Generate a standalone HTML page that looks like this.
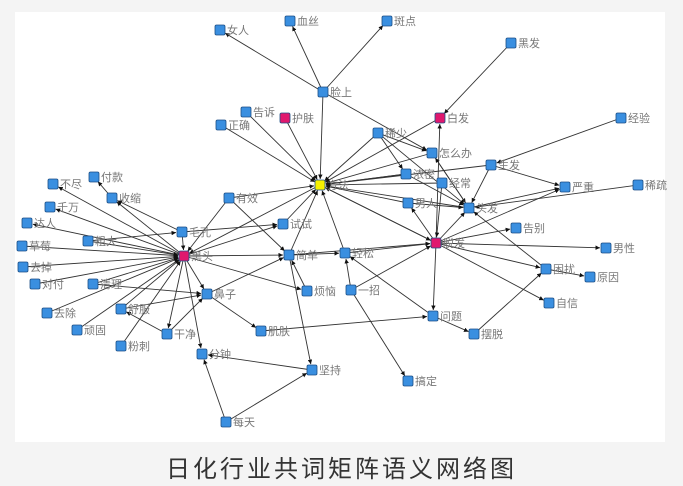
<!DOCTYPE html>
<html><head><meta charset="utf-8"><style>
body{margin:0;width:683px;height:486px;background:#f4f4f4;overflow:hidden;font-family:"Liberation Sans","Noto Sans CJK SC",sans-serif}
svg{position:absolute;left:0;top:0}
.cap{position:absolute;left:0;width:683px;top:449px;text-align:center;font-size:24px;color:#333;letter-spacing:3px;font-family:"Noto Sans CJK SC","WenQuanYi Zen Hei",sans-serif}
</style></head><body>
<svg width="683" height="486" xmlns="http://www.w3.org/2000/svg">
<defs><marker id="a" viewBox="0 0 6 6" refX="6" refY="3" markerWidth="5" markerHeight="5" orient="auto"><path d="M0,0L6,3L0,6z" fill="#111"/></marker></defs>
<rect x="15" y="12" width="650" height="430" fill="#fff"/>
<g id="e" stroke="#333" stroke-width="0.9" fill="none" marker-end="url(#a)"></g>
<g id="n"></g>
</svg>
<div class="cap">日化行业共词矩阵语义网络图</div>
<script>
var N={女人:[220,30],血丝:[290,21],斑点:[387,21],黑发:[511,43],脸上:[323,92],告诉:[246,112],正确:[221,125],护肤:[285,118,1],白发:[440,118,1],经验:[621,118],稀少:[378,133],怎么办:[432,153],生发:[491,165],浓密:[406,174],经常:[442,183],严重:[565,187],稀疏:[638,185],方法:[320,185,2],男人:[408,203],头发:[469,208],付款:[94,177],不尽:[53,184],收缩:[112,198],千万:[50,207],有效:[229,198],达人:[27,223],粗大:[88,241],毛孔:[182,232],试试:[283,224],草莓:[22,246],黑头:[184,256,1],简单:[289,255],去掉:[23,267],对付:[35,284],清理:[93,284],告别:[516,228],脱发:[436,243,1],男性:[606,248],轻松:[345,253],困扰:[546,269],原因:[590,277],烦恼:[307,291],一招:[351,290],鼻子:[207,294],舒服:[121,309],去除:[47,313],自信:[549,303],顽固:[77,330],干净:[167,334],肌肤:[261,331],问题:[433,316],摆脱:[474,334],粉刺:[121,346],分钟:[202,354],坚持:[312,370],搞定:[408,381],每天:[226,422]};
var E="脸上女人 脸上血丝 脸上斑点 脸上方法 脸上怎么办 正确方法 告诉方法 护肤方法 有效方法 试试方法 简单方法 轻松方法 稀少方法 白发方法 怎么办方法 浓密方法 经常方法 男人方法 头发方法 脱发方法 生发方法 黑头不尽 收缩付款 黑头收缩 黑头千万 黑头达人 粗大黑头 毛孔黑头 草莓黑头 去掉黑头 对付黑头 清理黑头 去除黑头 顽固黑头 舒服黑头 粉刺黑头 黑头干净 黑头分钟 黑头鼻子 黑头简单 黑头烦恼 有效黑头 黑头试试 方法黑头 黑发白发 经验生发 生发严重 稀疏头发 头发严重 生发头发 浓密头发 稀少浓密 稀少头发 怎么办头发 头发怎么办 浓密方法 脱发头发 脱发男人 脱发告别 脱发男性 脱发困扰 脱发自信 脱发问题 轻松脱发 一招脱发 简单脱发 方法脱发 脱发白发 困扰头发 困扰原因 摆脱困扰 问题摆脱 肌肤问题 问题轻松 一招轻松 一招搞定 简单坚持 坚持分钟 每天坚持 每天分钟 鼻子简单 鼻子肌肤 清理鼻子 舒服鼻子 干净鼻子 干净舒服 有效简单 毛孔试试 毛孔收缩 烦恼简单 粗大毛孔 简单轻松 经常脱发 男人头发 脱发严重 稀少怎么办".split(" ");
var keys=Object.keys(N).sort(function(a,b){return b.length-a.length});
var eg=document.getElementById('e'),ng=document.getElementById('n'),ns="http://www.w3.org/2000/svg";
E.forEach(function(s){var a,b;for(var i=0;i<keys.length;i++){if(s.indexOf(keys[i])==0&&N[s.slice(keys[i].length)]){a=keys[i];b=s.slice(a.length);break;}}if(!a)return;
var p=N[a],q=N[b],dx=q[0]-p[0],dy=q[1]-p[1],d=Math.hypot(dx,dy),r=6;
var l=document.createElementNS(ns,'line');l.setAttribute('x1',p[0]);l.setAttribute('y1',p[1]);l.setAttribute('x2',q[0]-dx/d*r);l.setAttribute('y2',q[1]-dy/d*r);eg.appendChild(l);});
for(var k in N){var p=N[k],c=p[2]==1?'#e0186e':p[2]==2?'#f5f000':'#3a8fe0';
var r=document.createElementNS(ns,'rect');r.setAttribute('x',p[0]-5);r.setAttribute('y',p[1]-5);r.setAttribute('width',10);r.setAttribute('height',10);r.setAttribute('rx',1.5);r.setAttribute('fill',c);r.setAttribute('stroke','#1c4f86');r.setAttribute('stroke-width','0.8');ng.appendChild(r);
var t=document.createElementNS(ns,'text');t.setAttribute('x',p[0]+7);t.setAttribute('y',p[1]+4);t.setAttribute('font-size','11');t.setAttribute('fill','#777');t.setAttribute('font-family','"Noto Sans CJK SC",sans-serif');t.textContent=k;ng.appendChild(t);}
</script>
</body></html>
